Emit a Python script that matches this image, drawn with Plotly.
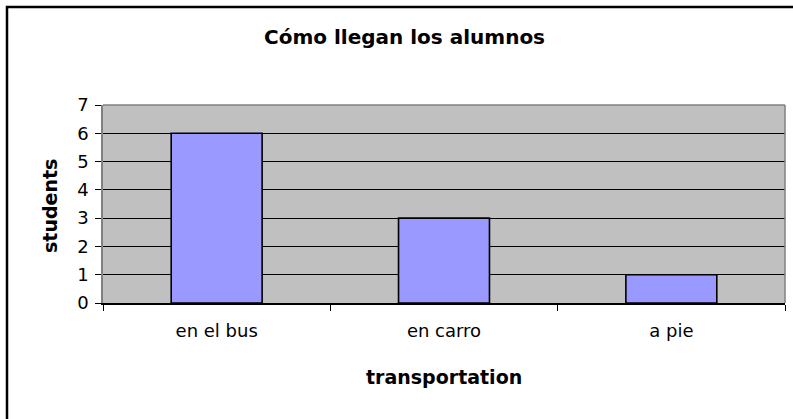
import plotly.graph_objects as go

categories = ["en el bus", "en carro", "a pie"]
students = [6, 3, 1]
y_ticks = [0, 1, 2, 3, 4, 5, 6, 7]

title_text = "Cómo llegan los alumnos"
x_title = "transportation"
y_title = "students"

W, H = 793, 419
L, R, T, B = 103, 8, 105, 116
pw = W - L - R
ph = H - T - B


def px_to_paper_x(px):
    return (px - L) / pw


def px_to_paper_y(py):
    return (H - B - py) / ph


FONT = "DejaVu Sans"

fig = go.Figure()
fig.add_trace(go.Bar(
    x=categories,
    y=students,
    marker=dict(color="#9999FF", line=dict(color="#000000", width=1.6)),
    width=0.4,
    hoverinfo="x+y",
))

fig.update_layout(
    width=W, height=H,
    margin=dict(l=L, r=R, t=T, b=B, pad=0),
    paper_bgcolor="#FFFFFF",
    plot_bgcolor="#C0C0C0",
    showlegend=False,
    font=dict(family=FONT, size=18, color="#000000"),
    bargap=0.6,
    xaxis=dict(
        type="category",
        tickson="boundaries",
        ticks="outside",
        ticklen=6,
        tickcolor="#000000",
        tickwidth=1,
        ticklabelstandoff=11,
        showline=True,
        linecolor="#000000",
        linewidth=1.5,
        showgrid=False,
        tickfont=dict(family=FONT, size=18, color="#000000"),
        range=[-0.5, 2.5],
        fixedrange=True,
    ),
    yaxis=dict(
        range=[0, 7],
        tickvals=y_ticks,
        ticks="outside",
        ticklen=6,
        tickcolor="#000000",
        ticklabelstandoff=3,
        showline=True,
        linecolor="#808080",
        linewidth=1.5,
        showgrid=True,
        gridcolor="#000000",
        gridwidth=1,
        zeroline=False,
        tickfont=dict(family=FONT, size=18, color="#000000"),
        fixedrange=True,
    ),
    shapes=[
        dict(type="line", xref="paper", yref="paper", x0=0, x1=1, y0=1, y1=1,
             line=dict(color="#808080", width=1.5), layer="above"),
        dict(type="line", xref="paper", yref="paper", x0=1, x1=1, y0=0, y1=1,
             line=dict(color="#808080", width=1.5), layer="above"),
        dict(type="rect", xref="paper", yref="paper",
             x0=px_to_paper_x(7), x1=px_to_paper_x(805),
             y0=px_to_paper_y(430), y1=px_to_paper_y(7),
             line=dict(color="#000000", width=2.5), fillcolor="rgba(0,0,0,0)",
             layer="above"),
    ],
    annotations=[
        dict(text="<b>" + title_text + "</b>", xref="paper", yref="paper",
             x=px_to_paper_x(404), y=px_to_paper_y(37), showarrow=False,
             xanchor="center", yanchor="middle",
             font=dict(family=FONT, size=20, color="#000000")),
        dict(text="<b>" + x_title + "</b>", xref="paper", yref="paper",
             x=px_to_paper_x(444), y=px_to_paper_y(377), showarrow=False,
             xanchor="center", yanchor="middle",
             font=dict(family=FONT, size=19, color="#000000")),
        dict(text="<b>" + y_title + "</b>", xref="paper", yref="paper",
             x=px_to_paper_x(50), y=px_to_paper_y(206), showarrow=False,
             xanchor="center", yanchor="middle", textangle=-90,
             font=dict(family=FONT, size=19, color="#000000")),
    ],
)

fig.write_html(
    "out.html",
    config={"displayModeBar": False},
    post_script="document.body.style.margin='0';document.body.style.padding='0';",
)
